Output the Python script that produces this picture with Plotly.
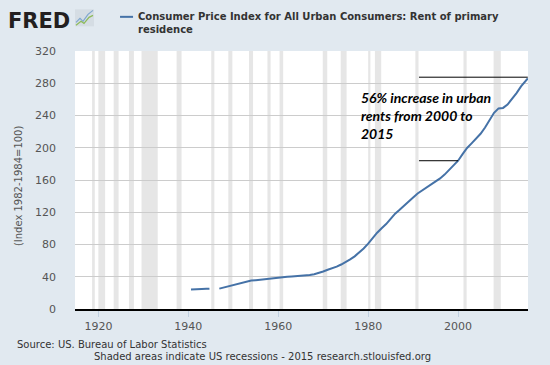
import plotly.graph_objects as go

# ---- data ----
years = [1940.6, 1941, 1942, 1943, 1944, 1944.7, 1945, 1946.9, 1948, 1949, 1950,
         1951, 1952, 1953, 1954, 1955, 1956, 1957, 1958, 1959, 1960,
         1961, 1962, 1963, 1964, 1965, 1966, 1967, 1968, 1969, 1970,
         1971, 1972, 1973, 1974, 1975, 1976, 1977, 1978, 1979, 1980,
         1981, 1982, 1983, 1984, 1985, 1986, 1987, 1988, 1989, 1990,
         1991, 1992, 1993, 1994, 1995, 1996, 1997, 1998, 1999, 2000,
         2001, 2002, 2003, 2004, 2005, 2006, 2007, 2008, 2009, 2010,
         2011, 2012, 2013, 2014, 2015.5]
rent_index = [24.3, 24.5, 24.8, 24.9, 25.0, 25.1, None, 25.3, 27.0, 28.3, 29.5,
              31.0, 32.5, 34.0, 35.3, 35.8, 36.5, 37.2, 37.9, 38.5, 39.0,
              39.5, 39.9, 40.3, 40.6, 41.0, 41.5, 42.2, 43.2, 44.5, 46.5,
              48.7, 50.4, 52.5, 55.2, 58.2, 61.6, 65.3, 69.8, 75.0, 81.0,
              88.0, 94.6, 100.1, 105.3, 111.8, 118.3, 123.1, 127.8, 132.8, 138.4,
              143.3, 146.9, 150.3, 154.0, 157.8, 162.0, 166.7, 172.1, 177.5, 183.9,
              192.1, 199.7, 205.5, 211.0, 217.3, 225.1, 234.7, 243.3, 248.8, 249.4,
              253.6, 260.4, 267.7, 276.0, 286.0]

recession_start = [1918.6, 1920.0, 1923.4, 1926.8, 1929.6, 1937.4, 1945.1, 1948.9,
                   1953.5, 1957.6, 1960.3, 1969.9, 1973.9, 1980.0, 1981.5, 1990.5,
                   2001.2, 2007.9]
recession_end = [1919.2, 1921.5, 1924.5, 1927.9, 1933.2, 1938.5, 1945.8, 1949.8,
                 1954.4, 1958.3, 1961.1, 1970.9, 1975.2, 1980.5, 1982.9, 1991.2,
                 2001.9, 2009.5]

y_ticks = [0, 40, 80, 120, 160, 200, 240, 280, 320]
x_ticks = [1920, 1940, 1960, 1980, 2000]

title_text = "Consumer Price Index for All Urban Consumers: Rent of primary<br>residence"
note_text = "56% increase in urban<br>rents from 2000 to<br>2015"
compare_years = [2000, 2015.5]

# ---- figure ----
W, H = 550, 365
L, R, T, B = 75, 22.3, 50.7, 56
pw, ph = W - L - R, H - T - B

def px(x):
    return (x - L) / pw

def py(y):
    return (H - B - y) / ph

fig = go.Figure()
fig.add_trace(go.Scatter(x=years, y=rent_index, mode="lines",
                         line=dict(color="#4572a7", width=2),
                         connectgaps=False, hoverinfo="x+y", showlegend=False))

shapes = []
for s, e in zip(recession_start, recession_end):
    shapes.append(dict(type="rect", xref="x", yref="paper", x0=s, x1=e, y0=0, y1=1,
                       fillcolor="#e6e6e6", line=dict(width=0), layer="below"))

# annotation reference lines at 2000 and 2015 levels
val_lookup = dict(zip(years, rent_index))
for yr in compare_years:
    off = 1.5 if yr > 2010 else 0
    shapes.append(dict(type="line", xref="x", yref="y", x0=1991.3, x1=yr,
                       y0=val_lookup[yr] + off, y1=val_lookup[yr] + off,
                       line=dict(color="black", width=1)))

# legend swatch in title
shapes.append(dict(type="line", xref="paper", yref="paper",
                   x0=px(120), x1=px(133), y0=py(16.5), y1=py(16.5),
                   line=dict(color="#4572a7", width=2)))

# FRED icon
shapes.append(dict(type="rect", xref="paper", yref="paper",
                   x0=px(75), x1=px(94), y0=py(26), y1=py(9),
                   fillcolor="#d5dde4", line=dict(width=0)))
shapes.append(dict(type="path", xref="paper", yref="paper",
                   path=f"M {px(76)} {py(22)} L {px(80)} {py(18)} L {px(83)} {py(21)} L {px(88)} {py(14)} L {px(93)} {py(10)}",
                   line=dict(color="#7fa7cf", width=1.2)))
shapes.append(dict(type="path", xref="paper", yref="paper",
                   path=f"M {px(76)} {py(25)} L {px(81)} {py(21)} L {px(84)} {py(23)} L {px(89)} {py(17)} L {px(93)} {py(15)}",
                   line=dict(color="#8dbb5a", width=1.2)))

annotations = [
    dict(text="<b>FRED</b>", xref="paper", yref="paper", x=px(6), y=py(7),
         xanchor="left", yanchor="top", showarrow=False,
         font=dict(family="DejaVu Sans", size=21, color="#231f20")),
    dict(text="<b>" + title_text + "</b>", xref="paper", yref="paper",
         x=px(136), y=py(9), xanchor="left", yanchor="top", align="left",
         showarrow=False,
         font=dict(family="DejaVu Sans", size=10, color="#333333")),
    dict(text="<b><i>" + note_text + "</i></b>", xref="paper", yref="paper",
         x=px(359), y=py(87), xanchor="left", yanchor="top", align="left",
         showarrow=False,
         font=dict(family="Lato", size=14, color="black")),
    dict(text="(Index 1982-1984=100)", xref="paper", yref="paper",
         x=px(18), y=py(185), xanchor="center", yanchor="middle", textangle=-90,
         showarrow=False,
         font=dict(family="DejaVu Sans", size=10, color="#555555")),
    dict(text="Source: US. Bureau of Labor Statistics", xref="paper", yref="paper",
         x=px(15), y=py(345), xanchor="left", yanchor="middle", showarrow=False,
         font=dict(family="DejaVu Sans", size=10, color="#333333")),
    dict(text="Shaded areas indicate US recessions - 2015 research.stlouisfed.org",
         xref="paper", yref="paper", x=px(92), y=py(357), xanchor="left",
         yanchor="middle", showarrow=False,
         font=dict(family="DejaVu Sans", size=10, color="#333333")),
]

fig.update_layout(
    template="none",
    width=W, height=H,
    margin=dict(l=L, r=R, t=T, b=B, pad=0, autoexpand=False),
    paper_bgcolor="#e1e9f0", plot_bgcolor="white",
    shapes=shapes, annotations=annotations, showlegend=False,
    xaxis=dict(range=[1914.8, 2015.55], tickvals=x_ticks, ticktext=[str(v) for v in x_ticks],
               showgrid=False, zeroline=False, showline=True, linecolor="black",
               linewidth=2, ticks="outside", ticklen=6, tickcolor="#c0d0e0",
               automargin=False,
               tickfont=dict(family="DejaVu Sans", size=11, color="#555555")),
    yaxis=dict(range=[0, 320], tickvals=y_ticks, ticktext=[str(v) for v in y_ticks],
               showgrid=True, gridcolor="#cccccc", gridwidth=1, zeroline=False,
               showline=False, ticks="", ticklabelstandoff=18, automargin=False,
               tickfont=dict(family="DejaVu Sans", size=11, color="#555555")),
)

fig.write_html("out.html", config={"displayModeBar": False},
               post_script="document.body.style.margin='0';document.body.style.overflow='hidden';")
